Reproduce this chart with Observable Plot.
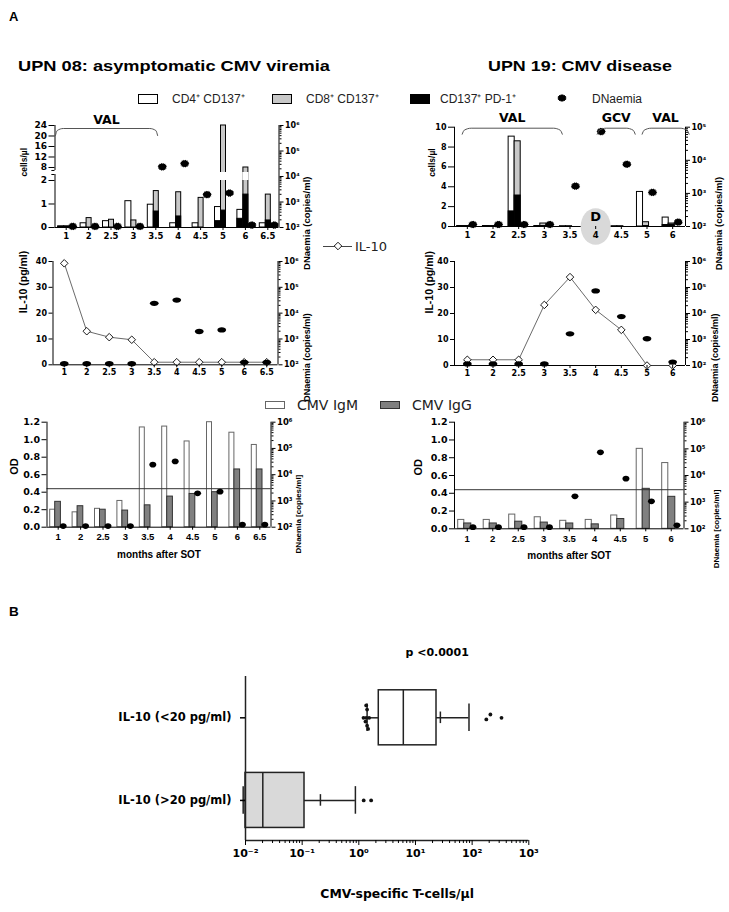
<!DOCTYPE html>
<html><head><meta charset="utf-8">
<script src="https://cdn.jsdelivr.net/npm/d3@7"></script>
<script src="https://cdn.jsdelivr.net/npm/@observablehq/plot@0.6"></script>
<style>
body{margin:0;background:#fff}
#page{position:relative;width:729px;height:912px;overflow:hidden;background:#fff}
.t{position:absolute;white-space:nowrap;line-height:1}
</style></head><body><div id="page"></div>
<script>
// ---------------- data ----------------
const months08 = ["1","2","2.5","3","3.5","4","4.5","5","6","6.5"];
const months19 = ["1","2","2.5","3","3.5","4","4.5","5","6"];

const cd4_08    = [0.05, 0.18, 0.27, 1.12, 0.97, 0.18, 0.18, 0.87, 0.75, 0.18];
const cd8_08    = [0.05, 0.40, 0.33, 0.30, 1.55, 1.50, 1.26, 24.0, 8.0, 1.40];
const pd1cd4_08 = [0.03, 0, 0, 0, 0, 0, 0, 0.27, 0.37, 0];
const pd1cd8_08 = [0.03, 0, 0, 0, 0.68, 0.47, 0, 0.72, 1.40, 0.30];
const dna08     = [110, 110, 110, 110, 24000, 32000, 1950, 2250, 125, 125];
const il10_08   = [39.3, 13.0, 10.7, 9.7, 1.0, 1.0, 1.0, 1.0, 1.0, 1.0];
const igm08     = [0.20, 0.17, 0.21, 0.30, 1.14, 1.15, 0.98, 1.20, 1.08, 0.94];
const igg08     = [0.29, 0.24, 0.20, 0.19, 0.25, 0.35, 0.38, 0.40, 0.66, 0.66];

const cd4_19    = [0.05, 0.05, 9.05, 0.05, 0.03, 0.03, 0.03, 3.48, 0.90];
const cd8_19    = [0.04, 0.03, 8.58, 0.30, 0.03, 0.03, 0.03, 0.43, 0.30];
const pd1cd4_19 = [0.03, 0.03, 1.52, 0, 0, 0, 0, 0, 0.15];
const pd1cd8_19 = [0.03, 0.03, 3.12, 0.05, 0, 0, 0, 0.05, 0.20];
const dna19     = [115, 115, 115, 115, 1650, 74000, 7600, 1070, 135];
const il10_19   = [2.2, 2.2, 2.2, 23.3, 34.0, 21.4, 13.7, 0.0, 0.0];
const igm19     = [0.10, 0.10, 0.16, 0.13, 0.09, 0.10, 0.15, 0.90, 0.74];
const igg19     = [0.06, 0.06, 0.08, 0.07, 0.06, 0.05, 0.11, 0.45, 0.36];

const odCutoff = 0.44;

// broken cells/µl axis of UPN 08 (lower part 0–2, upper part 8–24)
const cellTicks08 = [0, 1, 2, 8, 12, 16, 20, 24];

// therapy brackets (position in month-index units)
const therapy08 = [{label: "VAL", from: -0.48, to: 4.08}];
const therapy19 = [{label: "VAL", from: -0.2, to: 3.7}, {label: "GCV", from: 5.06, to: 6.54}, {label: "VAL", from: 6.81, to: 8.64}];
const disease19 = [{month: "4", label: "D"}];

// panel B
const groupsB  = ["IL-10 (<20 pg/ml)", "IL-10 (>20 pg/ml)"];
const lowB     = [1.40, 0.0091];
const q1B      = [2.25, 0.01];
const medB     = [6.1, 0.0202];
const q3B      = [23.5, 0.11];
const highB    = [88, 0.87];
const meanB    = [27.5, 0.21];
const pointsB  = [
  {g: 0, v: 1.35, j: 0.15}, {g: 0, v: 1.40, j: 0.10}, {g: 0, v: 1.21, j: 0.0}, {g: 0, v: 1.35, j: 0.0},
  {g: 0, v: 1.52, j: 0.0}, {g: 0, v: 1.31, j: -0.045}, {g: 0, v: 1.40, j: -0.095}, {g: 0, v: 1.46, j: -0.135},
  {g: 0, v: 178, j: -0.02}, {g: 0, v: 210, j: 0.04}, {g: 0, v: 330, j: 0.0},
  {g: 1, v: 1.22, j: 0.0}, {g: 1, v: 1.65, j: 0.0}
];

// ---------------- helpers ----------------
const W = 729, H = 912;
const page = document.getElementById("page");
const DJ = "'DejaVu Sans', sans-serif";
const LIB = "'Liberation Sans', Arial, sans-serif";
const ax = {fontFamily: DJ, fontWeight: "bold", label: null};
const idx = a => a.map((_, i) => i);
const SUP = {"-":"⁻","0":"⁰","1":"¹","2":"²","3":"³","4":"⁴","5":"⁵","6":"⁶","7":"⁷","8":"⁸","9":"⁹"};
const pow10 = v => "10" + String(Math.round(Math.log10(v))).replace(/./g, c => SUP[c]);
const decades = (lo, hi) => d3.range(Math.round(Math.log10(lo)), Math.round(Math.log10(hi)) + 1).map(e => 10 ** e);
const minors = (lo, hi) => decades(lo, hi).slice(0, -1).flatMap(p => d3.range(2, 10).map(m => m * p));

const burst = {
  draw(ctx, size) {
    const r = Math.sqrt(size / Math.PI), n = 14;
    for (let k = 0; k < 2 * n; ++k) {
      const a = (k * Math.PI) / n, rr = k % 2 ? r * 0.8 : r;
      const px = rr * 1.1 * Math.cos(a), py = rr * 0.92 * Math.sin(a);
      k ? ctx.lineTo(px, py) : ctx.moveTo(px, py);
    }
    ctx.closePath();
  }
};
const ellipse = (ax_, ay_) => ({
  draw(ctx, size) {
    const r = Math.sqrt(size / Math.PI), rx = r * ax_, ry = r * ay_, k = 0.5523;
    ctx.moveTo(rx, 0);
    ctx.bezierCurveTo(rx, ry * k, rx * k, ry, 0, ry);
    ctx.bezierCurveTo(-rx * k, ry, -rx, ry * k, -rx, 0);
    ctx.bezierCurveTo(-rx, -ry * k, -rx * k, -ry, 0, -ry);
    ctx.bezierCurveTo(rx * k, -ry, rx, -ry * k, rx, 0);
    ctx.closePath();
  }
});

function layer(f, options) {
  const svg = Plot.plot({width: W, height: H, marginLeft: f.l, marginRight: W - f.r, marginTop: f.t, marginBottom: H - f.b, ...options});
  Object.assign(svg.style, {position: "absolute", left: "0px", top: "0px", background: "transparent", overflow: "visible", fontFamily: DJ, fontSize: "9px", maxWidth: "none"});
  page.appendChild(svg);
  return svg;
}
const ytitle = (text, anchor, dx, size, extra = {}) =>
  Plot.text([text], {frameAnchor: anchor, dx, rotate: -90, fontFamily: LIB, fontWeight: "bold", fontSize: size, ...extra});
const band = {x1: d => d.i - 0.5, x2: d => d.i + 0.5};
const braces = (list, yTop, yEnd) => list.flatMap((b, k) => [
  {k, x: b.from, y: yEnd}, {k, x: b.from + 0.08, y: yTop + 2}, {k, x: b.from + 0.35, y: yTop},
  {k, x: b.to - 0.35, y: yTop}, {k, x: b.to - 0.08, y: yTop + 2}, {k, x: b.to, y: yEnd}
]);

function rowsOf(months, s) {
  return months.map((m, i) => ({i, m, cd4: s.cd4[i], cd8: s.cd8[i], p4: s.p4[i], p8: s.p8[i], dna: s.dna[i], il10: s.il10[i], igm: s.igm[i], igg: s.igg[i]}));
}
const rows08 = rowsOf(months08, {cd4: cd4_08, cd8: cd8_08, p4: pd1cd4_08, p8: pd1cd8_08, dna: dna08, il10: il10_08, igm: igm08, igg: igg08});
const rows19 = rowsOf(months19, {cd4: cd4_19, cd8: cd8_19, p4: pd1cd4_19, p8: pd1cd8_19, dna: dna19, il10: il10_19, igm: igm19, igg: igg19});

function cellBars(rows, w, g, t = v => v) {
  return [
    Plot.rect(rows, {...band, y1: 0, y2: d => t(d.cd4), insetLeft: w[0], insetRight: w[1], fill: "white", stroke: "black", strokeWidth: 1}),
    Plot.rect(rows.filter(d => d.p4 > 0), {...band, y1: 0, y2: d => t(d.p4), insetLeft: w[0], insetRight: w[1], fill: "black", stroke: "black", strokeWidth: 1}),
    Plot.rect(rows, {...band, y1: 0, y2: d => t(d.cd8), insetLeft: g[0], insetRight: g[1], fill: "#c8c8c8", stroke: "black", strokeWidth: 1}),
    Plot.rect(rows.filter(d => d.p8 > 0), {...band, y1: 0, y2: d => t(d.p8), insetLeft: g[0], insetRight: g[1], fill: "black", stroke: "black", strokeWidth: 1})
  ];
}
function xAxis(months, o) {
  return Plot.axisX({ticks: idx(months), tickFormat: i => months[i], tickSize: 3, ...ax, ...o});
}
function dnaLayer(f, rows, xd, dom, dot, axisFont, title) {
  layer(f, {
    x: {domain: xd, axis: null},
    y: {type: "log", domain: dom},
    marks: [
      Plot.axisY(minors(...dom), {anchor: "right", tickSize: 2, tickFormat: () => "", label: null}),
      Plot.axisY(decades(...dom), {anchor: "right", tickSize: 4, tickPadding: 2, tickFormat: pow10, fontSize: axisFont, ...ax}),
      Plot.dot(rows, {x: "i", y: "dna", fill: "black", ...dot}),
      title
    ]
  });
}

// ---------------- top-left: UPN 08 cells (broken axis) ----------------
const xd08 = [-0.5, months08.length - 0.5];
const xd19 = [-0.5, months19.length - 0.5];
const F1 = {l: 54.5, r: 278.5, t: 125, b: 227};
// piecewise mapping of the broken axis: 0–2 full height, 2–8 squeezed, 8–24 compressed
const brk = d3.scaleLinear().domain([0, 2, 8, 24]).range([0, 2, 2.553, 4.34]);
const gapLo = 2.0, gapHi = 2.34, axisGapLo = 2.255, axisGapHi = 2.426;
layer(F1, {
  x: {domain: xd08},
  y: {domain: [0, brk(24)]},
  marks: [
    ...cellBars(rows08, [3.2, 13.2], [9.2, 8.2], brk),
    Plot.rect(rows08.filter(d => d.cd8 > 2), {...band, y1: gapLo, y2: gapHi, insetLeft: 8.6, insetRight: 7.6, fill: "white"}),
    Plot.ruleY([0]),
    Plot.ruleX([xd08[0]], {y1: 0, y2: axisGapLo}),
    Plot.ruleX([xd08[0]], {y1: axisGapHi, y2: brk(24)}),
    Plot.ruleY([axisGapLo, axisGapHi], {x1: xd08[0] - 0.14, x2: xd08[0]}),
    Plot.ruleX([xd08[1]], {y1: 0, y2: brk(24)}),
    Plot.axisY({anchor: "left", ticks: cellTicks08.map(brk), tickFormat: y => String(Math.round(brk.invert(y))), tickSize: 6, tickPadding: 2, fontSize: 9, ...ax}),
    xAxis(months08, {tickPadding: 2, fontSize: 8.5}),
    ytitle("cells/µl", "left", -31, 8.5)
  ]
});
dnaLayer(F1, rows08, xd08, [100, 1e6], {dx: 6.5, r: 4.3, symbol: burst}, 8, ytitle("DNaemia (copies/ml)", "right", 28, 9.5));
layer(F1, {
  x: {domain: xd08, axis: null},
  y: {domain: [0, 10], range: [F1.t, F1.t + 10], axis: null},
  marks: [
    Plot.line(braces(therapy08, 3, 10), {x: "x", y: "y", z: "k", curve: "monotone-x", stroke: "#555", strokeWidth: 1}),
    Plot.text(therapy08, {x: d => (d.from + d.to) / 2, y: -6, text: "label", fontFamily: DJ, fontWeight: "bold", fontSize: 12.5})
  ]
});

// ---------------- top-right: UPN 19 cells ----------------
const F4 = {l: 454, r: 685, t: 126.7, b: 226};
layer(F4, {
  x: {domain: xd19},
  y: {domain: [0, 10]},
  marks: [
    ...cellBars(rows19, [2.8, 16.8], [8.8, 10.8]),
    Plot.ruleY([0]),
    Plot.ruleX(xd19),
    Plot.dot(disease19, {x: d => months19.indexOf(d.month), y: 0, r: 15, symbol: ellipse(1, 1.22), fill: "#d9d9d9"}),
    Plot.text(disease19, {x: d => months19.indexOf(d.month), y: 0, dy: -10, text: "label", fontFamily: DJ, fontWeight: "bold", fontSize: 13}),
    Plot.axisY({anchor: "left", ticks: [0, 2, 4, 6, 8, 10], tickSize: 6, tickPadding: 2, fontSize: 8, ...ax}),
    xAxis(months19, {tickPadding: 2, fontSize: 8.5}),
    ytitle("cells/µl", "left", -22.3, 8.5)
  ]
});
dnaLayer(F4, rows19, xd19, [100, 1e5], {dx: 5.5, r: 4.3, symbol: burst}, 8, ytitle("DNaemia (copies/ml)", "right", 33.3, 9.5));
layer(F4, {
  x: {domain: xd19, axis: null},
  y: {domain: [0, 10], range: [F4.t, F4.t + 10], axis: null},
  marks: [
    Plot.line(braces(therapy19, 1, 7), {x: "x", y: "y", z: "k", curve: "monotone-x", stroke: "#555", strokeWidth: 1}),
    Plot.text(therapy19, {x: d => (d.from + d.to) / 2, y: -9.5, text: "label", fontFamily: DJ, fontWeight: "bold", fontSize: 12.5})
  ]
});

// ---------------- middle: IL-10 ----------------
function il10Panel(f, rows, months, xd, tdx, rdx) {
  layer(f, {
    x: {domain: xd},
    y: {domain: [0, 40]},
    marks: [
      Plot.ruleY([0]),
      Plot.ruleX(xd),
      Plot.line(rows, {x: "i", y: "il10", stroke: "#444", strokeWidth: 0.8}),
      Plot.dot(rows, {x: "i", y: "il10", symbol: "diamond2", r: 3.4, fill: "white", stroke: "black", strokeWidth: 0.9}),
      Plot.axisY({anchor: "left", ticks: [0, 10, 20, 30, 40], tickSize: 4, tickPadding: 2, fontSize: 8, ...ax}),
      xAxis(months, {tickPadding: 1.5, fontSize: 8}),
      ytitle("IL-10 (pg/ml)", "left", tdx, 10.5)
    ]
  });
  dnaLayer(f, rows, xd, [100, 1e6], {r: 3.8, symbol: ellipse(1.15, 0.7)}, 8, ytitle("DNaemia (copies/ml)", "right", rdx, 9));
}
il10Panel({l: 52.5, r: 277.5, t: 261, b: 364.3}, rows08, months08, xd08, -29.2, 29.2);
il10Panel({l: 454, r: 685, t: 261, b: 365}, rows19, months19, xd19, -25, 30);

// ---------------- bottom: OD ----------------
function odPanel(f, rows, months, xd, w, g, ddx, tdx, rdx, rdy) {
  layer(f, {
    x: {domain: xd},
    y: {domain: [0, 1.2]},
    marks: [
      Plot.rect(rows, {...band, y1: 0, y2: "igm", insetLeft: w[0], insetRight: w[1], fill: "white", stroke: "#666", strokeWidth: 1}),
      Plot.rect(rows, {...band, y1: 0, y2: "igg", insetLeft: g[0], insetRight: g[1], fill: "#808080", stroke: "#333", strokeWidth: 1}),
      Plot.ruleY([odCutoff], {stroke: "#333", strokeWidth: 1}),
      Plot.ruleY([0]),
      Plot.ruleX(xd),
      Plot.axisY({anchor: "left", ticks: d3.range(0, 1.21, 0.2), tickFormat: ".1f", tickSize: 5, tickPadding: 2, fontSize: 9.5, ...ax}),
      xAxis(months, {tickPadding: 3.5, fontSize: 9.5, fontFamily: LIB}),
      Plot.text(["months after SOT"], {frameAnchor: "bottom", dy: 30.5, fontFamily: LIB, fontWeight: "bold", fontSize: 10}),
      ytitle("OD", "left", tdx, 11)
    ]
  });
  dnaLayer(f, rows, xd, [100, 1e6], {dx: ddx, r: 3.2, symbol: ellipse(1.1, 0.9)}, 8.5, ytitle("DNaemia [copies/ml]", "right", rdx, 8, {dy: rdy}));
}
odPanel({l: 46.5, r: 270.5, t: 421.7, b: 526.7}, rows08, months08, xd08, [3.2, 14.2], [8.2, 8.5], 5, -33, 27, 0);
odPanel({l: 454, r: 683.5, t: 421.7, b: 528.3}, rows19, months19, xd19, [3.7, 15.7], [9.7, 8.7], 5.7, -36, 32, 14);

// ---------------- panel B ----------------
const FB = {l: 245, r: 528.3, t: 676, b: 840};
const yB = [-0.485, 1.5];
const posB = g => groupsB.length - 1 - g;
const BOX = 0.333, CAP = 0.167, MEAN = 0.07;
const boxes = groupsB.map((name, g) => ({g, y: posB(g), lo: lowB[g], q1: q1B[g], med: medB[g], q3: q3B[g], hi: highB[g], mean: meanB[g]}));
const dark = {stroke: "#222", strokeWidth: 1.5};
layer(FB, {
  x: {type: "log", domain: [0.01, 1000]},
  y: {domain: yB},
  marks: [
    Plot.ruleY(boxes, {y: "y", x1: "lo", x2: "q1", ...dark}),
    Plot.ruleY(boxes, {y: "y", x1: "q3", x2: "hi", ...dark}),
    Plot.rect(boxes, {x1: "q1", x2: "q3", y1: d => d.y - BOX, y2: d => d.y + BOX, fill: d => d.g === 0 ? "white" : "#d9d9d9", ...dark}),
    Plot.ruleX(boxes, {x: "med", y1: d => d.y - BOX, y2: d => d.y + BOX, ...dark}),
    Plot.ruleX(boxes, {x: "lo", y1: d => d.y - CAP, y2: d => d.y + CAP, ...dark}),
    Plot.ruleX(boxes, {x: "hi", y1: d => d.y - CAP, y2: d => d.y + CAP, ...dark}),
    Plot.ruleX(boxes, {x: "mean", y1: d => d.y - MEAN, y2: d => d.y + MEAN, ...dark}),
    Plot.dot(pointsB, {x: "v", y: d => posB(d.g) + d.j, r: 1.9, fill: "#111"}),
    Plot.ruleX([0.01], dark),
    Plot.ruleY([yB[0]], dark),
    Plot.axisY({anchor: "left", ticks: groupsB.map((_, g) => posB(g)), tickFormat: y => groupsB[posB(y)], tickSize: 5, tickPadding: 9, fontSize: 11.5, strokeWidth: 1.5, ...ax}),
    Plot.axisX(minors(0.01, 1000), {tickSize: 3, tickFormat: () => "", label: null}),
    Plot.axisX(decades(0.01, 1000), {tickSize: 5, tickPadding: 4, tickFormat: pow10, fontSize: 11, ...ax}),
    Plot.text(["p <0.0001"], {frameAnchor: "top", dx: 50, dy: -28, fontFamily: DJ, fontWeight: "bold", fontSize: 11}),
    Plot.text(["CMV-specific T-cells/µl"], {frameAnchor: "bottom", dx: 10, dy: 57, fontFamily: DJ, fontWeight: "bold", fontSize: 12.4})
  ]
});

// ---------------- page text & legends ----------------
function label(s, o) {
  const el = document.createElement("div");
  el.className = "t"; el.textContent = s;
  const size = o.size;
  Object.assign(el.style, {left: o.x + "px", top: (o.y - 0.49 * size) + "px", fontSize: size + "px",
    fontWeight: o.weight || "normal", fontFamily: o.family || LIB, color: o.color || "#000"});
  page.appendChild(el);
  if (o.fit) {
    const w = el.getBoundingClientRect().width;
    el.style.transformOrigin = "0 50%";
    el.style.transform = `scaleX(${o.fit / w})`;
  }
  return el;
}
function box(x, y, w, h, fill, border) {
  const el = document.createElement("div");
  Object.assign(el.style, {position: "absolute", left: x + "px", top: y + "px", width: w + "px", height: h + "px",
    background: fill, border: border, boxSizing: "border-box"});
  page.appendChild(el);
}
function symbolAt(type, r, x, y, fill, stroke) {
  const ns = "http://www.w3.org/2000/svg";
  const s = document.createElementNS(ns, "svg");
  s.setAttribute("width", 24); s.setAttribute("height", 24);
  Object.assign(s.style, {position: "absolute", left: (x - 12) + "px", top: (y - 12) + "px", overflow: "visible"});
  const p = document.createElementNS(ns, "path");
  p.setAttribute("d", d3.symbol(type, Math.PI * r * r)());
  p.setAttribute("transform", "translate(12,12)");
  p.setAttribute("fill", fill); if (stroke) { p.setAttribute("stroke", stroke); p.setAttribute("stroke-width", 0.9); }
  s.appendChild(p); page.appendChild(s);
}

label("A", {x: 9, y: 16, size: 13, weight: "bold"});
label("UPN 08: asymptomatic CMV viremia", {x: 18, y: 65, size: 15, weight: "bold", fit: 312});
label("UPN 19: CMV disease", {x: 488, y: 65, size: 15, weight: "bold", fit: 184});
label("B", {x: 9, y: 611.5, size: 13.5, weight: "bold"});

box(138, 94, 20, 10, "white", "1.2px solid #000");
label("CD4⁺ CD137⁺", {x: 172, y: 99, size: 12, color: "#222"});
box(272, 94, 20, 10, "#c8c8c8", "1.2px solid #000");
label("CD8⁺ CD137⁺", {x: 306, y: 99, size: 12, color: "#222"});
box(410, 94, 20, 10, "#000", "1.2px solid #000");
label("CD137⁺ PD-1⁺", {x: 440, y: 99, size: 12, color: "#222"});
symbolAt(burst, 4.3, 562, 98, "#000");
label("DNaemia", {x: 592, y: 99, size: 12, color: "#222"});

box(323, 245.5, 29, 1, "#444", "none");
symbolAt(d3.symbolDiamond2, 3.4, 337.5, 246, "white", "#000");
label("IL-10", {x: 355, y: 246, size: 13, family: DJ, color: "#222"});

box(265, 400.5, 20, 8.5, "white", "1px solid #666");
label("CMV IgM", {x: 297, y: 405, size: 14, family: DJ, color: "#222"});
box(380, 400.5, 20, 8.5, "#808080", "1px solid #333");
label("CMV IgG", {x: 412, y: 405, size: 14, family: DJ, color: "#222"});
</script></body></html>
